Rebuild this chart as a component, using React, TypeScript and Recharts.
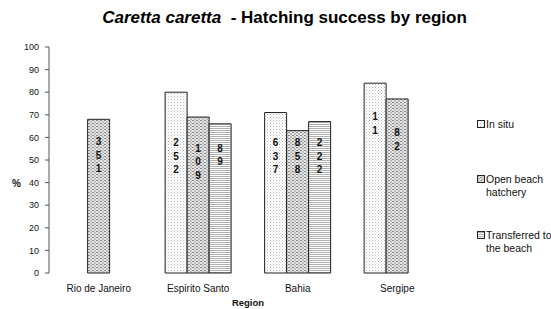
import { BarChart, Bar, XAxis, YAxis, LabelList } from 'recharts'

const regions = ['Rio de Janeiro', 'Espirito Santo', 'Bahia', 'Sergipe']
const inSitu = [null, 80, 71, 84]
const openBeach = [68, 69, 63, 77]
const transferred = [null, 66, 67, null]
const inSituN = ['', '252', '637', '11']
const openBeachN = ['351', '109', '858', '82']
const transferredN = ['', '89', '222', '']
const yTicks = [0, 10, 20, 30, 40, 50, 60, 70, 80, 90, 100]
const edgeTicks = [0, 1, 2, 3, 4]

const data = regions.map((r, i) => ({
  region: r,
  inSitu: inSitu[i],
  openBeach: openBeach[i],
  transferred: transferred[i],
  inSituN: inSituN[i],
  openBeachN: openBeachN[i],
  transferredN: transferredN[i],
}))

const series: Record<string, { vals: (number | null)[]; counts: string[] }> = {
  inSitu: { vals: inSitu, counts: inSituN },
  openBeach: { vals: openBeach, counts: openBeachN },
  transferred: { vals: transferred, counts: transferredN },
}

// where the first digit of each stacked count sits (value units)
const firstDigitAt: Record<string, number[]> = {
  inSitu: [0, 57.7, 57.7, 69.2],
  openBeach: [58, 55.3, 57.7, 62],
  transferred: [0, 55.3, 57.7, 0],
}

const FONT = 'Arial, "Liberation Sans", sans-serif'

const stackLabel = (key: string) => (props: any) => {
  const { x, y, width, height, value } = props
  if (!value) return null
  const i = series[key].counts.indexOf(String(value))
  const v = series[key].vals[i]
  if (!v) return null
  const bottom = y + height
  const unit = height / v
  const cy = bottom - firstDigitAt[key][i] * unit
  return (
    <text x={x + width / 2} textAnchor="middle" fontSize={10} fontWeight="bold" fontFamily={FONT} fill="#111">
      {String(value).split('').map((d, k) => (
        <tspan key={k} x={x + width / 2} y={cy + 3.5 + k * 13.5}>{d}</tspan>
      ))}
    </text>
  )
}

function Patterns({ p }: { p: string }) {
  return (
    <defs>
      <pattern id={`${p}dots`} width="3" height="3" patternUnits="userSpaceOnUse">
        <rect width="3" height="3" fill="#fff" />
        <rect x="0" y="0" width="1" height="1" fill="#b8b8b8" />
        <rect x="1.5" y="1.5" width="1" height="1" fill="#d0d0d0" />
      </pattern>
      <pattern id={`${p}check`} width="4" height="3" patternUnits="userSpaceOnUse">
        <rect width="4" height="3" fill="#e4e4e4" />
        <rect x="0" y="0" width="2" height="1" fill="#888" />
        <rect x="2" y="1.5" width="2" height="1" fill="#9c9c9c" />
      </pattern>
      <pattern id={`${p}hlines`} width="3" height="2" patternUnits="userSpaceOnUse">
        <rect width="3" height="2" fill="#fff" />
        <rect x="0" y="0" width="3" height="1" fill="#b0b0b0" />
      </pattern>
    </defs>
  )
}

const legendItems = [
  { fill: 'lgdots', lines: ['In situ'], top: 118 },
  { fill: 'lgcheck', lines: ['Open beach', 'hatchery'], top: 173 },
  { fill: 'lghlines', lines: ['Transferred to', 'the beach'], top: 229 },
]

export default function App() {
  return (
    <div style={{ position: 'absolute', left: 0, top: 0, width: 551, height: 309, background: '#fff', fontFamily: FONT }}>
      <div style={{ position: 'absolute', left: 0, width: 569, top: 8, textAlign: 'center', fontSize: 17, fontWeight: 'bold', color: '#000', whiteSpace: 'nowrap' }}>
        <i>Caretta caretta</i>&nbsp; - Hatching success by region
      </div>

      <BarChart
        width={551}
        height={309}
        data={data}
        margin={{ top: 47, right: 104, left: 9, bottom: 6 }}
        barCategoryGap="16.7%"
        barGap={0}
      >
        <Patterns p="" />
        <XAxis
          xAxisId="edge"
          type="number"
          domain={[0, 4]}
          ticks={edgeTicks}
          height={0}
          tickSize={4}
          tickFormatter={() => ''}
          stroke="#555"
          allowDataOverflow
        />
        <XAxis
          dataKey="region"
          height={30}
          axisLine={false}
          tickLine={false}
          tick={{ fontSize: 10, fill: '#111', fontFamily: FONT }}
          tickMargin={6}
          interval={0}
          label={{ value: 'Region', position: 'insideBottom', offset: 0, dy: 3, fontSize: 9.5, fontWeight: 'bold', fill: '#111', fontFamily: FONT }}
        />
        <YAxis
          domain={[0, 100]}
          ticks={yTicks}
          width={40}
          tickSize={4}
          tickMargin={6}
          stroke="#555"
          interval={0}
          tick={{ fontSize: 9, fill: '#111', fontFamily: FONT }}
          label={{ value: '%', position: 'insideLeft', dx: -2, dy: 23, fontSize: 10, fontWeight: 'bold', fill: '#111', fontFamily: FONT }}
        />
        <Bar dataKey="inSitu" fill="url(#dots)" stroke="#222" strokeWidth={1} isAnimationActive={false}>
          <LabelList dataKey="inSituN" content={stackLabel('inSitu')} />
        </Bar>
        <Bar dataKey="openBeach" fill="url(#check)" stroke="#222" strokeWidth={1} isAnimationActive={false}>
          <LabelList dataKey="openBeachN" content={stackLabel('openBeach')} />
        </Bar>
        <Bar dataKey="transferred" fill="url(#hlines)" stroke="#222" strokeWidth={1} isAnimationActive={false}>
          <LabelList dataKey="transferredN" content={stackLabel('transferred')} />
        </Bar>
      </BarChart>

      <svg style={{ position: 'absolute', left: 0, top: 0 }} width={551} height={309}>
        <Patterns p="lg" />
        {legendItems.map((it) => (
          <g key={it.fill}>
            <rect x={477.5} y={it.top + 2.5} width={7} height={7} fill={`url(#${it.fill})`} stroke="#222" strokeWidth={1} />
            {it.lines.map((l, k) => (
              <text key={k} x={486} y={it.top + 10 + k * 12.5} fontSize={10.5} fontFamily={FONT} fill="#111">{l}</text>
            ))}
          </g>
        ))}
      </svg>
    </div>
  )
}
